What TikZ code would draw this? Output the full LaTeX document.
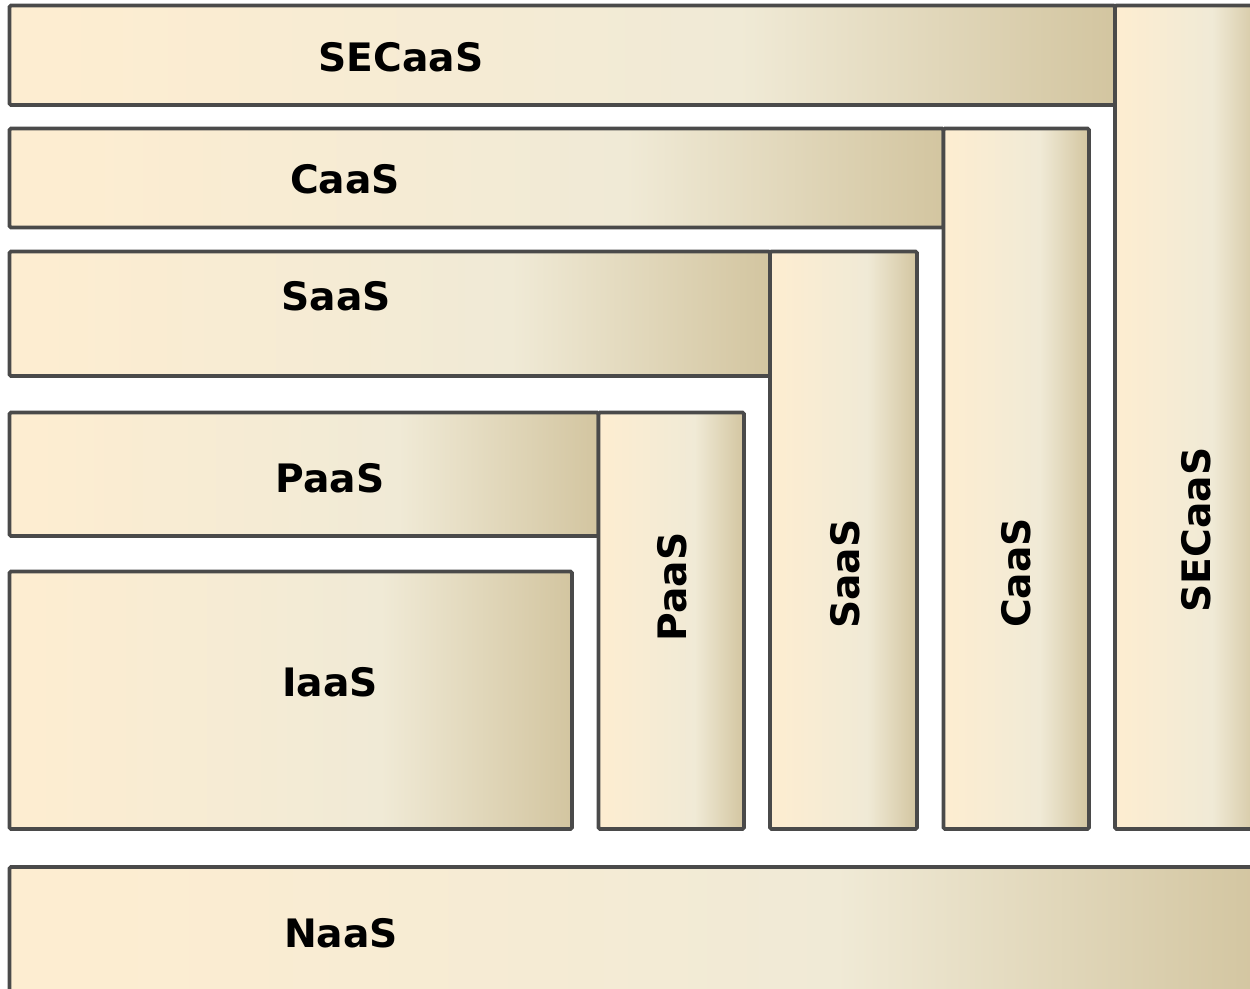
\documentclass[tikz,border=0pt]{standalone}
\usepackage{fontspec}
\setmainfont{DejaVu Sans}

\definecolor{tanL}{RGB}{253,237,209}
\definecolor{tanM}{RGB}{240,234,214}
\definecolor{tanR}{RGB}{209,195,157}
\definecolor{edgegray}{RGB}{74,74,74}
\pgfdeclarehorizontalshading{tanfade}{100bp}{color(0bp)=(tanL); color(27bp)=(tanL); color(58bp)=(tanM); color(76bp)=(tanR); color(100bp)=(tanR)}

\tikzset{
  tanbox/.style={draw=edgegray, line width=2.1pt, rounded corners=0.8pt, shading=tanfade},
  lbl/.style={font=\fontsize{22.3}{27}\selectfont\bfseries, text=black, inner sep=0pt}
}

\begin{document}
\begin{tikzpicture}[x=0.02cm, y=-0.02cm]
    \useasboundingbox (0,0) rectangle (1250,988);
    \clip (0,0) rectangle (1250,988);
    %% Draw the blocks
    \path[tanbox] (9.5,5.5) rectangle (1115,105);
    \path[tanbox] (1115,5.5) rectangle (1262,829);
    \path[tanbox] (9.5,128.5) rectangle (943.5,227.5);
    \path[tanbox] (943.5,128.5) rectangle (1089,829);
    \path[tanbox] (9.5,251.5) rectangle (770,376);
    \path[tanbox] (770,251.5) rectangle (917,829);
    \path[tanbox] (9.5,412.5) rectangle (598.5,536);
    \path[tanbox] (598.5,412.5) rectangle (744,829);
    \path[tanbox] (9.5,571.5) rectangle (572,829);
    \path[tanbox] (9.5,867) rectangle (1262,1010);
    %% Draw the labels
    \node[lbl] (secH) at (401,57) {SECaaS};
    \node[lbl] (caasH) at (345,179) {CaaS};
    \node[lbl] (saasH) at (336,296) {SaaS};
    \node[lbl] (paasH) at (330,478) {PaaS};
    \node[lbl] (iaas) at (330,682) {IaaS};
    \node[lbl] (naas) at (341,933) {NaaS};
    \begin{scope}[every node/.append style={rotate=90}]
      \node[lbl] (paasV) at (672,587) {PaaS};
      \node[lbl] (saasV) at (845,574) {SaaS};
      \node[lbl] (caasV) at (1016,573) {CaaS};
      \node[lbl] (secV) at (1196,530) {SECaaS};
    \end{scope}
\end{tikzpicture}
\end{document}
